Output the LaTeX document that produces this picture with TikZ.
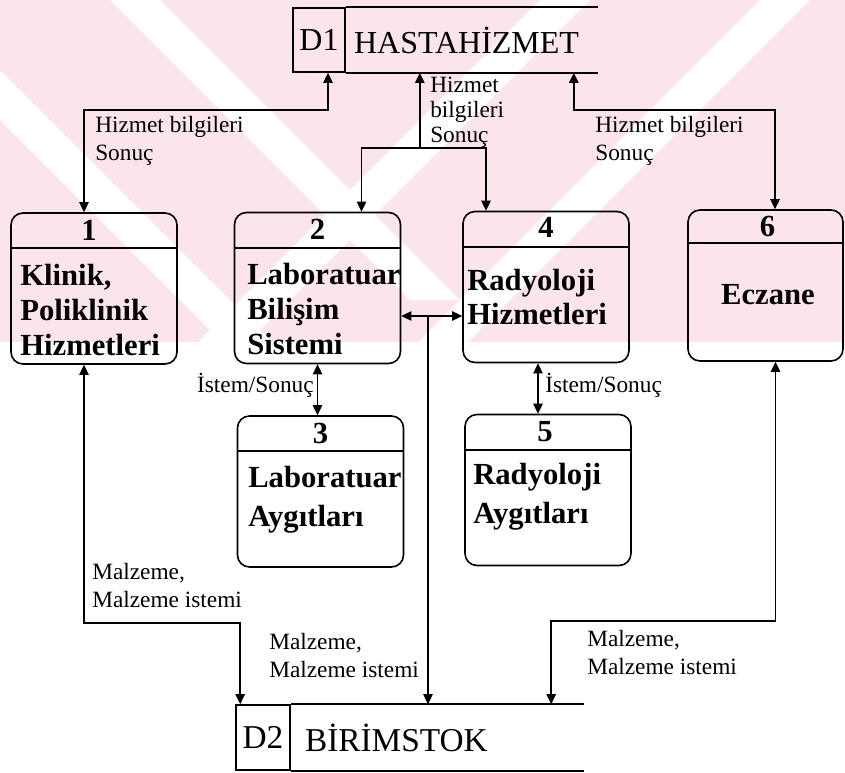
\documentclass[tikz,border=0pt]{standalone}
\usepackage{fontspec}
\setmainfont{Liberation Serif}
\usetikzlibrary{calc,arrows.meta}

\definecolor{wmpink}{RGB}{251,229,234}

\tikzset{
  proc/.style={draw, line width=1.2pt, rounded corners=9pt, minimum width=124.5pt, minimum height=113.25pt},
  numtxt/.style={font=\fontsize{23}{26}\selectfont\bfseries, inner sep=0pt},
  bodytxt/.style={font=\fontsize{23}{26}\selectfont\bfseries, align=left, anchor=west, inner sep=0pt},
  storeid/.style={draw, line width=1.2pt, minimum width=39pt, minimum height=48pt, inner sep=0pt},
  storetxt/.style={anchor=west, inner sep=0pt},
  flowtxt/.style={font=\fontsize{17.5}{21}\selectfont, align=left, inner sep=0pt},
  flow/.style={line width=1.1pt, -{Triangle[length=7.5pt,width=7pt]}},
  dflow/.style={line width=1.1pt, {Triangle[length=7.5pt,width=7pt]}-{Triangle[length=7.5pt,width=7pt]}},
}

\begin{document}
\begin{tikzpicture}[x=0.75pt, y=-0.75pt]
  \useasboundingbox (0,0) rectangle (845,772);

  % background watermark
  \begin{scope}
    \clip (0,0) rectangle (845,342);
    \fill[wmpink] (0,0) rectangle (845,342);
    \fill[white] (110,0) -- (160,0) -- (460,300) -- (410,300) -- cycle;
    \fill[white] (-120,0) -- (-70,0) -- (272,342) -- (222,342) -- cycle;
    \fill[white] (540,0) -- (590,0) -- (248,342) -- (198,342) -- cycle;
    \fill[white] (760,0) -- (810,0) -- (468,342) -- (418,342) -- cycle;
  \end{scope}

  % data stores
  \node[storeid, font=\fontsize{24}{28}\selectfont] (d1) at (319,40) {D1};
  \node[storetxt, font=\fontsize{24}{28}\selectfont] (d1n) at ($(d1.east)+(8,0)$) {HASTAHİZMET};
  \draw[line width=1.2pt] (d1.north east) -- ++(252,0);
  \draw[line width=1.2pt] (d1.south east) -- ++(252,0);

  \node[storeid, minimum width=40.5pt, minimum height=48.75pt, font=\fontsize{25}{28}\selectfont] (d2) at (263,737.5) {D2};
  \node[storetxt, font=\fontsize{25}{28}\selectfont] (d2n) at ($(d2.east)+(14,0)$) {BİRİMSTOK};
  \draw[line width=1.2pt] (d2.north east) -- ++(293,0);
  \draw[line width=1.2pt] (d2.south east) -- ++(293,0);

  % processes
  \node[proc] (p1) at (94,288.5) {};
  \node[proc] (p2) at (317.5,288) {};
  \node[proc] (p4) at (546,287) {};
  \node[proc, minimum width=116.25pt] (p6) at (765.5,285.5) {};
  \node[proc] (p3) at (320.5,491.5) {};
  \node[proc] (p5) at (548,490) {};
  \foreach \p in {p1,p2,p3,p4,p5}
    \draw[line width=1.2pt] ($(\p.north west)+(0,36)$) -- ($(\p.north east)+(0,36)$);
  \draw[line width=1.2pt] ($(p6.north west)+(0,34)$) -- ($(p6.north east)+(0,34)$);

  \node[numtxt] (n1) at ($(p1.north)+(-5,18)$) {1};
  \node[numtxt] (n2) at ($(p2.north)+(0,18)$) {2};
  \node[numtxt] (n4) at ($(p4.north)+(0,17)$) {4};
  \node[numtxt] (n6) at ($(p6.north)+(2,17)$) {6};
  \node[numtxt] (n3) at ($(p3.north)+(0,18)$) {3};
  \node[numtxt] (n5) at ($(p5.north)+(-3,18)$) {5};

  \node[bodytxt] (t1) at (20,310) {Klinik,\\Poliklinik\\Hizmetleri};
  \node[bodytxt] (t2) at (247,309) {Laboratuar\\Bilişim\\Sistemi};
  \node[bodytxt] (t4) at (467,297) {Radyoloji\\Hizmetleri};
  \node[bodytxt, anchor=center] (t6) at (768,295) {Eczane};
  \node[bodytxt] (t3) at (248,500) {Laboratuar\\[3pt]Aygıtları};
  \node[bodytxt] (t5) at (473,497) {Radyoloji\\[3pt]Aygıtları};

  % flows to and from D1
  \draw[dflow] ($(p1.north)+(-10,0)$) |- ($(d1.south)+(9,37)$) -- ($(d1.south)+(9,0)$);
  \coordinate (jm) at ($(d1.south east)+(74,75)$);
  \draw[flow] (jm) -- (jm |- d1.south);
  \draw[flow] (jm) -| ($(p2.north)+(44,0)$);
  \draw[flow] (jm) -| ($(p4.north)+(-60,0)$);
  \draw[dflow] ($(p6.north)+(9.5,0)$) |- ($(d1.south east)+(228,37)$) -- ($(d1.south east)+(228,0)$);

  \node[flowtxt, anchor=west] (l1) at (95,141) {Hizmet bilgileri\\Sonuç};
  \node[flowtxt, anchor=west, font=\fontsize{17.5}{18.75}\selectfont] (l2) at (430,112) {Hizmet\\bilgileri\\Sonuç};
  \node[flowtxt, anchor=west] (l6) at (595,141) {Hizmet bilgileri\\Sonuç};

  % flows between processes
  \coordinate (a2) at (p2.south);
  \coordinate (a4) at ($(p4.south)+(-8,0)$);
  \draw[dflow] (a2) -- (a2 |- p3.north);
  \draw[dflow] (a4) -- (a4 |- p5.north);
  \node[flowtxt, anchor=east] (l3) at (314,385) {İstem/Sonuç};
  \node[flowtxt, anchor=west] (l5) at (545,385) {İstem/Sonuç};

  \coordinate (h2) at ($(p2.east)+(0,28)$);
  \draw[dflow] (h2) -- (h2 -| p4.west);

  % flows to D2
  \coordinate (cm) at (428,316);
  \draw[flow] (cm) -- (cm |- d2.north);
  \draw[dflow] ($(p1.south)+(-10,0)$) |- ($(d2.north west)+(5,-81)$) -- ($(d2.north west)+(5,0)$);
  \draw[dflow] ($(p6.south)+(10,0)$) |- ($(d2.north west)+(316,-83)$) -- ($(d2.north west)+(316,0)$);

  \node[flowtxt, anchor=west] (m1) at (92,586) {Malzeme,\\Malzeme istemi};
  \node[flowtxt, anchor=west] (m2) at (269,656) {Malzeme,\\Malzeme istemi};
  \node[flowtxt, anchor=west] (m6) at (587,653) {Malzeme,\\Malzeme istemi};
\end{tikzpicture}
\end{document}
